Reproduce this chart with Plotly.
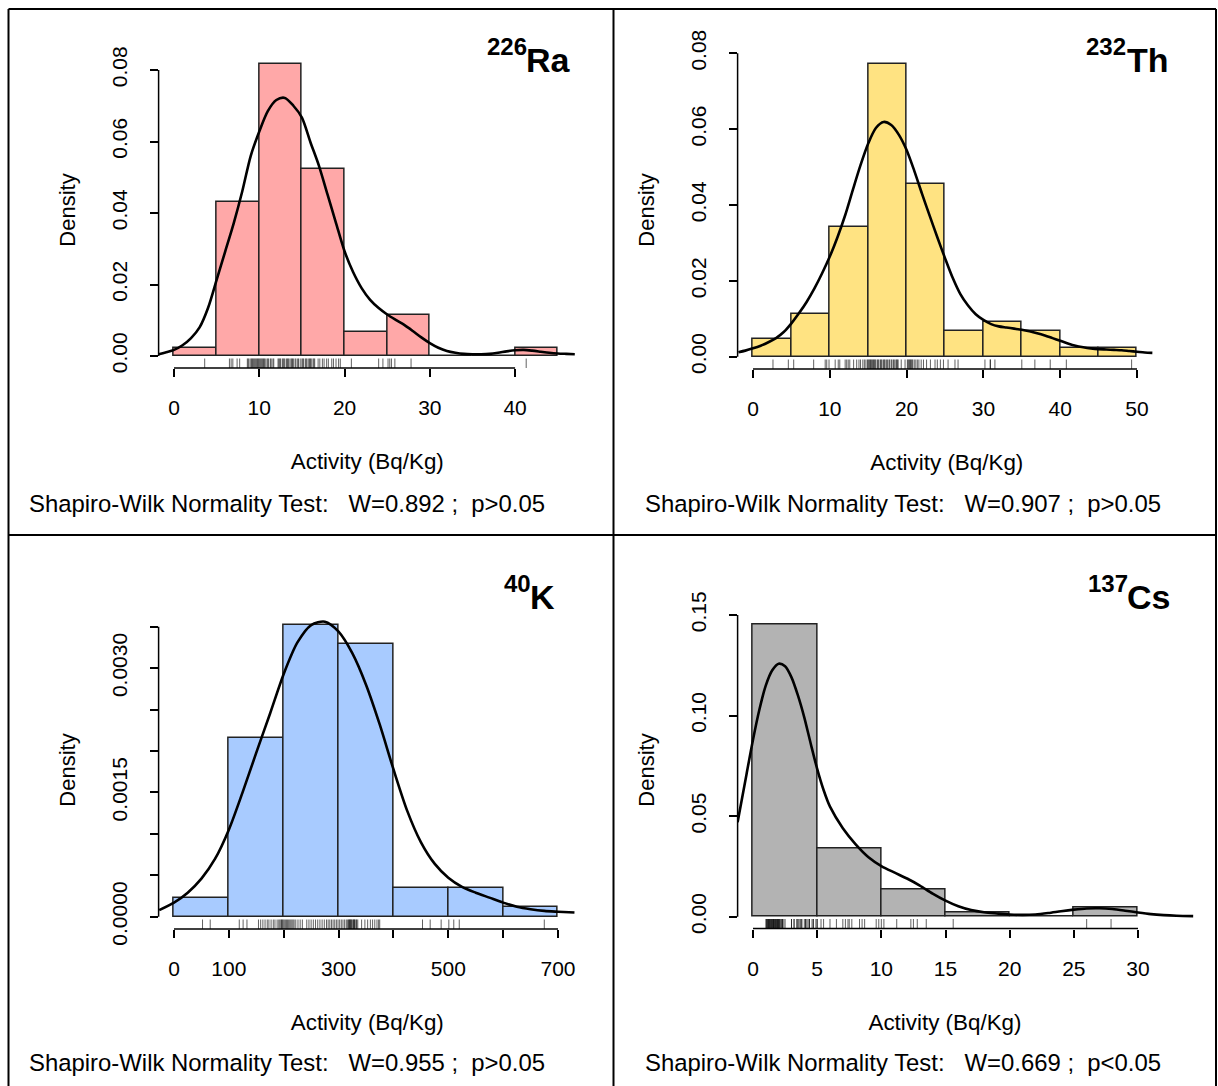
import plotly.graph_objects as go

W, H = 1218, 1086
FONT = "Liberation Sans, Arial, Helvetica, sans-serif"

# ---------------- data ----------------
# 226Ra
ra_edges = [0, 5, 10, 15, 20, 25, 30, 35, 40, 45]
ra_density = [0.00227, 0.0432, 0.0818, 0.0523, 0.0068, 0.0114, 0.0, 0.0, 0.00227]
ra_rug = [3.6,
          6.5, 6.7, 6.9, 7.4, 7.7, 8.6, 8.7, 8.8, 9.0, 9.1, 9.2, 9.3, 9.4, 9.5, 9.6, 9.7, 9.8, 9.9, 10.0,
          10.1, 10.2, 10.3, 10.4, 10.5, 10.6, 10.7, 10.9, 11.0, 11.1, 11.3, 11.4, 11.6, 11.7, 12.2, 12.3,
          12.4, 12.5, 12.7, 12.8, 12.9, 13.0, 13.2, 13.3, 13.4, 13.5, 13.7, 13.8, 13.9, 14.0, 14.2, 14.3,
          14.5, 14.6, 14.8, 15.0,
          15.1, 15.2, 15.4, 15.5, 15.6, 15.8, 15.9, 16.0, 16.1, 16.3, 16.4, 16.5, 16.9, 17.1, 17.4, 17.6,
          17.9, 18.1, 18.5, 18.7, 19.0, 19.3, 19.5,
          20.8, 24.0, 24.5,
          25.1, 25.3, 25.5, 25.9, 27.8,
          41.3]
ra_kde_x = [-1.8, -1, 0, 1, 2, 3, 4, 5, 6, 7, 8, 9, 10, 11, 12, 13, 14, 15, 16, 17, 18, 19, 20,
            21, 22, 23, 24, 25, 26, 27, 28, 29, 30, 31, 32, 33, 34, 35, 36, 37, 38, 39, 40, 41, 42,
            43, 44, 45, 46, 47]
ra_kde_y = [0.0005, 0.0010, 0.0017, 0.0030, 0.0050, 0.0080, 0.0135, 0.0213, 0.0292, 0.0371, 0.0460,
            0.0560, 0.0628, 0.0685, 0.0716, 0.0722, 0.0700, 0.0667, 0.0598, 0.0532, 0.0452, 0.0372,
            0.0293, 0.0235, 0.0190, 0.0157, 0.0134, 0.0116, 0.0101, 0.0087, 0.0070, 0.0052, 0.0036,
            0.0023, 0.0014, 0.0009, 0.0006, 0.0005, 0.0005, 0.0006, 0.0009, 0.0013, 0.0016, 0.0017,
            0.0015, 0.0012, 0.0009, 0.0007, 0.0006, 0.0005]

# 232Th
th_edges = [0, 5, 10, 15, 20, 25, 30, 35, 40, 45, 50]
th_density = [0.00455, 0.01136, 0.0341, 0.0773, 0.04545, 0.0068, 0.00909, 0.0068, 0.00227, 0.00227]
th_rug = [2.6, 4.6,
          5.3, 7.9, 9.4, 9.6, 9.9,
          10.7, 11.1, 11.3, 12.0, 12.2, 12.4, 12.6, 13.1, 13.5, 13.8, 14.0, 14.3, 14.5, 14.7, 14.9,
          15.0, 15.1, 15.2, 15.3, 15.4, 15.5, 15.6, 15.7, 15.8, 15.9, 16.0, 16.2, 16.3, 16.4, 16.6,
          16.7, 16.8, 17.0, 17.1, 17.2, 17.4, 17.5, 17.7, 17.8, 18.0, 18.1, 18.3, 18.4, 18.6, 18.7,
          18.8, 18.9, 19.3, 19.8,
          20.1, 20.2, 20.3, 20.4, 20.5, 20.6, 20.7, 20.8, 21.0, 21.2, 21.4, 21.6, 21.9, 22.2, 22.6,
          23.1, 23.7, 24.0, 24.4, 24.8,
          25.4, 26.3, 26.7,
          30.2, 30.9, 30.9, 31.5,
          35.0, 36.7, 38.7,
          40.8,
          49.3]
th_kde_x = [-1.9, -1, 0, 1, 2, 3, 4, 5, 6, 7, 8, 9, 10, 11, 12, 13, 14, 15, 16, 17, 18, 19, 20,
            21, 22, 23, 24, 25, 26, 27, 28, 29, 30, 31, 32, 33, 34, 35, 36, 37, 38, 39, 40, 41, 42,
            43, 44, 45, 46, 47, 48, 49, 50, 51, 52]
th_kde_y = [0.0012, 0.0016, 0.0022, 0.0029, 0.0038, 0.0049, 0.0065, 0.0088, 0.0115, 0.0145, 0.0180,
            0.0220, 0.0264, 0.0315, 0.0373, 0.0440, 0.0505, 0.0562, 0.0603, 0.0619, 0.0611, 0.0585,
            0.0545, 0.0490, 0.0430, 0.0372, 0.0315, 0.0260, 0.0208, 0.0165, 0.0135, 0.0112, 0.0097,
            0.0086, 0.0080, 0.0077, 0.0074, 0.0071, 0.0067, 0.0062, 0.0056, 0.0049, 0.0042, 0.0035,
            0.0029, 0.0025, 0.0022, 0.0020, 0.0019, 0.0018, 0.0017, 0.0015, 0.0013, 0.0011, 0.0010]

# 40K
k_edges = [0, 100, 200, 300, 400, 500, 600, 700]
k_density = [0.000227, 0.002159, 0.003523, 0.003295, 0.000341, 0.000341, 0.000114]
k_rug = [52, 66,
         119, 126, 133, 154, 158, 162, 166, 170, 173, 177, 181, 184, 188, 191, 193, 195, 196, 198, 199,
         201, 203, 205, 207, 209, 211, 213, 215, 217, 219, 222, 226, 230, 234, 242, 246, 250, 254, 258,
         262, 266, 270, 274, 278, 281, 284, 287, 290, 293, 296, 299,
         302, 305, 308, 311, 314, 316, 318, 319, 320, 321, 322, 323, 324, 326, 327, 328, 329, 330, 332,
         333, 335, 342, 348, 353, 358, 362, 366, 370, 373, 375,
         453, 467, 487,
         501, 510, 520,
         675]
k_kde_x = [-27, 0, 25, 50, 75, 100, 125, 150, 175, 200, 225, 250, 275, 300, 325, 350, 375, 400,
           425, 450, 475, 500, 525, 550, 575, 600, 625, 650, 675, 700, 730]
k_kde_y = [0.00008, 0.00017, 0.00029, 0.00046, 0.00070, 0.00105, 0.00150, 0.00198, 0.00245,
           0.00293, 0.00331, 0.00352, 0.00356, 0.00344, 0.00318, 0.00280, 0.00232, 0.00178, 0.00128,
           0.00090, 0.00064, 0.00047, 0.00036, 0.00029, 0.00023, 0.00017, 0.00012, 0.00009, 0.00007,
           0.00006, 0.00005]

# 137Cs
cs_edges = [0, 5, 10, 15, 20, 25, 30]
cs_density = [0.14545, 0.03409, 0.01364, 0.00227, 0.0, 0.00455]
cs_rug = [1.0, 1.05, 1.1, 1.1, 1.15, 1.2, 1.2, 1.25, 1.3, 1.3, 1.35, 1.4, 1.4, 1.45, 1.5, 1.5, 1.55,
          1.6, 1.6, 1.65, 1.7, 1.7, 1.75, 1.8, 1.8, 1.85, 1.9, 1.9, 1.95, 2.0, 2.0, 2.05, 2.1, 2.1,
          2.2, 2.2, 2.3, 2.3, 2.4, 2.5,
          3.0, 3.0, 3.2, 3.2, 3.4, 3.5, 3.5, 3.6, 3.7, 3.8, 3.8, 4.0, 4.1, 4.1, 4.2, 4.3, 4.4, 4.4,
          4.6, 4.7, 4.7, 4.9, 5.0, 5.0,
          5.3, 5.5, 6.0, 6.5, 7.0, 7.2, 7.4, 7.5, 7.7, 8.3, 8.5, 8.7, 9.6, 9.8, 10.0,
          10.2, 11.2, 12.3, 12.5, 12.8, 13.5,
          15.6,
          26.0, 27.9]
cs_kde_x = [-1.2, -0.5, 0.0, 0.5, 1.0, 1.5, 2.0, 2.5, 3.0, 3.5, 4.0, 4.5, 5.0, 5.5, 6.0, 7, 8, 9,
            10, 11, 12, 13, 14, 15, 16, 17, 18, 19, 20, 21, 22, 23, 24, 25, 26, 27, 28, 29, 30, 31,
            32, 33, 34.3]
cs_kde_y = [0.047, 0.071, 0.088, 0.103, 0.115, 0.1225, 0.1258, 0.1245, 0.119, 0.110, 0.099, 0.086,
            0.0735, 0.063, 0.0547, 0.0440, 0.0360, 0.0296, 0.0252, 0.0220, 0.0190, 0.0155, 0.0115,
            0.0080, 0.0052, 0.0033, 0.0022, 0.0016, 0.0011, 0.0009, 0.0011, 0.0018, 0.0027, 0.0035,
            0.0041, 0.0042, 0.0038, 0.0030, 0.0021, 0.0013, 0.0008, 0.0005, 0.0003]

# axis ticks (labelled major ticks, plus unlabelled minor ticks where needed)
ra_xticks = [0, 10, 20, 30, 40]
th_xticks = [0, 10, 20, 30, 40, 50]
k_xticks = [0, 100, 300, 500, 700]
k_xminor = [200, 400, 600]
cs_xticks = [0, 5, 10, 15, 20, 25, 30]
ra_yticks = [0.00, 0.02, 0.04, 0.06, 0.08]
th_yticks = [0.00, 0.02, 0.04, 0.06, 0.08]
k_yticks = [0.0, 0.0015, 0.0030]
k_yminor = [0.0005, 0.0010, 0.0020, 0.0025, 0.0035]
cs_yticks = [0.00, 0.05, 0.10, 0.15]

mass_numbers = ["226", "232", "40", "137"]
elements = ["Ra", "Th", "K", "Cs"]
w_stats = ["0.892", "0.907", "0.955", "0.669"]
p_stats = ["p>0.05", "p>0.05", "p>0.05", "p&lt;0.05"]
x_title = "Activity (Bq/Kg)"
y_title = "Density"

# ---------------- panel layout (pixel geometry) ----------------
# xdom: pixel extent of the axis box; curve_right: how far the density curve may run
panels = [
    dict(edges=ra_edges, dens=ra_density, rug=ra_rug, kx=ra_kde_x, ky=ra_kde_y, fill="#FFA8A8",
         xt=ra_xticks, xm=[], yt=ra_yticks, ym=[], yfmt="{:.2f}",
         xdom=(158.6, 576), curve_right=None, xcal=(0, 174, 40, 515.1),
         ydom=(368, 52), ycal=(0, 356, 0.08, 70),
         ox=0, oy=0, sym_left=527, sym_right=573),
    dict(edges=th_edges, dens=th_density, rug=th_rug, kx=th_kde_x, ky=th_kde_y, fill="#FFE382",
         xt=th_xticks, xm=[], yt=th_yticks, ym=[], yfmt="{:.2f}",
         xdom=(737.6, 1156), curve_right=None, xcal=(0, 753, 50, 1137),
         ydom=(369, 51), ycal=(0, 356.7, 0.08, 53.3),
         ox=580, oy=0, sym_left=1126, sym_right=1171),
    dict(edges=k_edges, dens=k_density, rug=k_rug, kx=k_kde_x, ky=k_kde_y, fill="#A8CBFF",
         xt=k_xticks, xm=k_xminor, yt=k_yticks, ym=k_yminor, yfmt="{:.4f}",
         xdom=(158.6, 576), curve_right=None, xcal=(0, 174, 700, 558),
         ydom=(929, 611), ycal=(0, 916.7, 0.0035, 626.7),
         ox=0, oy=537, sym_left=531, sym_right=557),
    dict(edges=cs_edges, dens=cs_density, rug=cs_rug, kx=cs_kde_x, ky=cs_kde_y, fill="#B3B3B3",
         xt=cs_xticks, xm=[], yt=cs_yticks, ym=[], yfmt="{:.2f}",
         xdom=(737.6, 1152.4), curve_right=1196, xcal=(0, 753, 30, 1138),
         ydom=(928.5, 611.5), ycal=(0, 916.7, 0.15, 615),
         ox=580, oy=537, sym_left=1128, sym_right=1172),
]


def lin_range(lo_px, hi_px, v1, p1, v2, p2):
    s = (v2 - v1) / (p2 - p1)
    return [v1 + (lo_px - p1) * s, v1 + (hi_px - p1) * s], abs(s)


def px(x):
    return x / W


def py(y):
    return 1 - y / H


fig = go.Figure()
shapes = []
annotations = []
layout_axes = {}
tick_style = dict(ticks="outside", ticklen=8, tickwidth=1.5, tickcolor="black")
extra_axis = 5

for i, p in enumerate(panels):
    n = "" if i == 0 else str(i + 1)
    xa, ya = "x" + n, "y" + n
    xr, _ = lin_range(p["xdom"][0], p["xdom"][1], *p["xcal"])
    yr, ypx = lin_range(p["ydom"][0], p["ydom"][1], *p["ycal"])
    xdomain = [px(p["xdom"][0]), px(p["xdom"][1])]
    ydomain = [py(p["ydom"][0]), py(p["ydom"][1])]

    edges = p["edges"]
    mids = [(a + b) / 2 for a, b in zip(edges[:-1], edges[1:])]
    widths = [b - a for a, b in zip(edges[:-1], edges[1:])]
    fig.add_trace(go.Bar(x=mids, y=p["dens"], width=widths, xaxis=xa, yaxis=ya,
                         marker=dict(color=p["fill"], line=dict(color="#222222", width=1.5)),
                         hoverinfo="skip"))

    # rug ticks rising from the bottom edge of the plotting region
    rug_top = yr[0] + 9.5 * ypx
    rx, ry = [], []
    for v in p["rug"]:
        rx += [v, v, None]
        ry += [yr[0], rug_top, None]
    fig.add_trace(go.Scatter(x=rx, y=ry, mode="lines", xaxis=xa, yaxis=ya,
                             line=dict(color="rgba(0,0,0,0.62)", width=1), hoverinfo="skip"))

    # kernel density curve; where it runs past the axis box it gets its own hidden,
    # identically scaled (but wider) subplot
    cxa, cya = xa, ya
    if p["curve_right"]:
        m = str(extra_axis)
        extra_axis += 1
        cxa, cya = "x" + m, "y" + m
        cxr, _ = lin_range(p["xdom"][0], p["curve_right"], *p["xcal"])
        layout_axes["xaxis" + m] = dict(domain=[px(p["xdom"][0]), px(p["curve_right"])], range=cxr,
                                        anchor=cya, visible=False, showgrid=False, zeroline=False)
        layout_axes["yaxis" + m] = dict(domain=ydomain, range=yr, anchor=cxa, visible=False,
                                        showgrid=False, zeroline=False)
    fig.add_trace(go.Scatter(x=p["kx"], y=p["ky"], mode="lines", xaxis=cxa, yaxis=cya,
                             line=dict(color="black", width=2.6, shape="spline", smoothing=0.8),
                             hoverinfo="skip"))

    layout_axes["xaxis" + n] = dict(
        domain=xdomain, range=xr, anchor=ya,
        showgrid=False, zeroline=False, showline=False, automargin=False,
        tickmode="array", tickvals=p["xt"], ticktext=[str(v) for v in p["xt"]],
        ticklabelstandoff=13, tickfont=dict(family=FONT, size=21, color="black"),
        title=dict(text=x_title, standoff=35, font=dict(family=FONT, size=22.4, color="black")),
        **tick_style)
    layout_axes["yaxis" + n] = dict(
        domain=ydomain, range=yr, anchor=xa,
        showgrid=False, zeroline=False, showline=False, automargin=False,
        tickmode="array", tickvals=p["yt"], ticktext=[p["yfmt"].format(v) for v in p["yt"]],
        tickangle=-90, ticklabelstandoff=14,
        tickfont=dict(family=FONT, size=21, color="black"),
        title=dict(text=y_title, standoff=26, font=dict(family=FONT, size=22, color="black")),
        **tick_style)
    if p["xm"]:
        layout_axes["xaxis" + n]["minor"] = dict(tickmode="array", tickvals=p["xm"], **tick_style)
    if p["ym"]:
        layout_axes["yaxis" + n]["minor"] = dict(tickmode="array", tickvals=p["ym"], **tick_style)

    # axis lines running from the first to the last tick
    xall = p["xt"] + p["xm"]
    yall = p["yt"] + p["ym"]
    shapes.append(dict(type="line", xref=xa, yref=ya + " domain", x0=min(xall), x1=max(xall),
                       y0=0, y1=0, line=dict(color="black", width=1.5)))
    shapes.append(dict(type="line", xref=xa + " domain", yref=ya, x0=0, x1=0,
                       y0=min(yall), y1=max(yall), line=dict(color="black", width=1.5)))

    ox, oy = p["ox"], p["oy"]
    # isotope label: raised mass number followed by the element symbol
    annotations.append(dict(x=px(p["sym_right"]), y=py(81 + oy), xref="paper", yref="paper",
                            xanchor="right", yanchor="bottom", showarrow=False,
                            text=f"<b>{elements[i]}</b>",
                            font=dict(family=FONT, size=34, color="black")))
    annotations.append(dict(x=px(p["sym_left"] + 2), y=py(62 + oy), xref="paper", yref="paper",
                            xanchor="right", yanchor="bottom", showarrow=False,
                            text=f"<b>{mass_numbers[i]}</b>",
                            font=dict(family=FONT, size=24, color="black")))
    sw_y = 504 if i < 2 else 1062
    annotations.append(dict(x=px(27 + ox + (36 if i % 2 else 0)), y=py(sw_y),
                            xref="paper", yref="paper", xanchor="left", yanchor="middle",
                            showarrow=False,
                            text=f"Shapiro-Wilk Normality Test:\u00a0\u00a0 W={w_stats[i]} ;\u00a0 {p_stats[i]}",
                            font=dict(family=FONT, size=23.9, color="black")))

# panel frames
frame = dict(color="black", width=2)
shapes += [
    dict(type="line", xref="paper", yref="paper", x0=px(8.5), x1=px(1216), y0=py(9), y1=py(9), line=frame),
    dict(type="line", xref="paper", yref="paper", x0=px(8.5), x1=px(8.5), y0=py(9), y1=py(1095), line=frame),
    dict(type="line", xref="paper", yref="paper", x0=px(1216), x1=px(1216), y0=py(9), y1=py(1095), line=frame),
    dict(type="line", xref="paper", yref="paper", x0=px(613.5), x1=px(613.5), y0=py(9), y1=py(1095), line=frame),
    dict(type="line", xref="paper", yref="paper", x0=px(8.5), x1=px(1216), y0=py(535), y1=py(535), line=frame),
]

fig.update_layout(
    width=W, height=H, autosize=False,
    margin=dict(l=0, r=0, t=0, b=0, pad=0, autoexpand=False),
    paper_bgcolor="white", plot_bgcolor="rgba(0,0,0,0)",
    showlegend=False, bargap=0,
    shapes=shapes, annotations=annotations,
    font=dict(family=FONT, color="black"),
    **layout_axes,
)

fig.write_html("out.html", config={"responsive": False})
